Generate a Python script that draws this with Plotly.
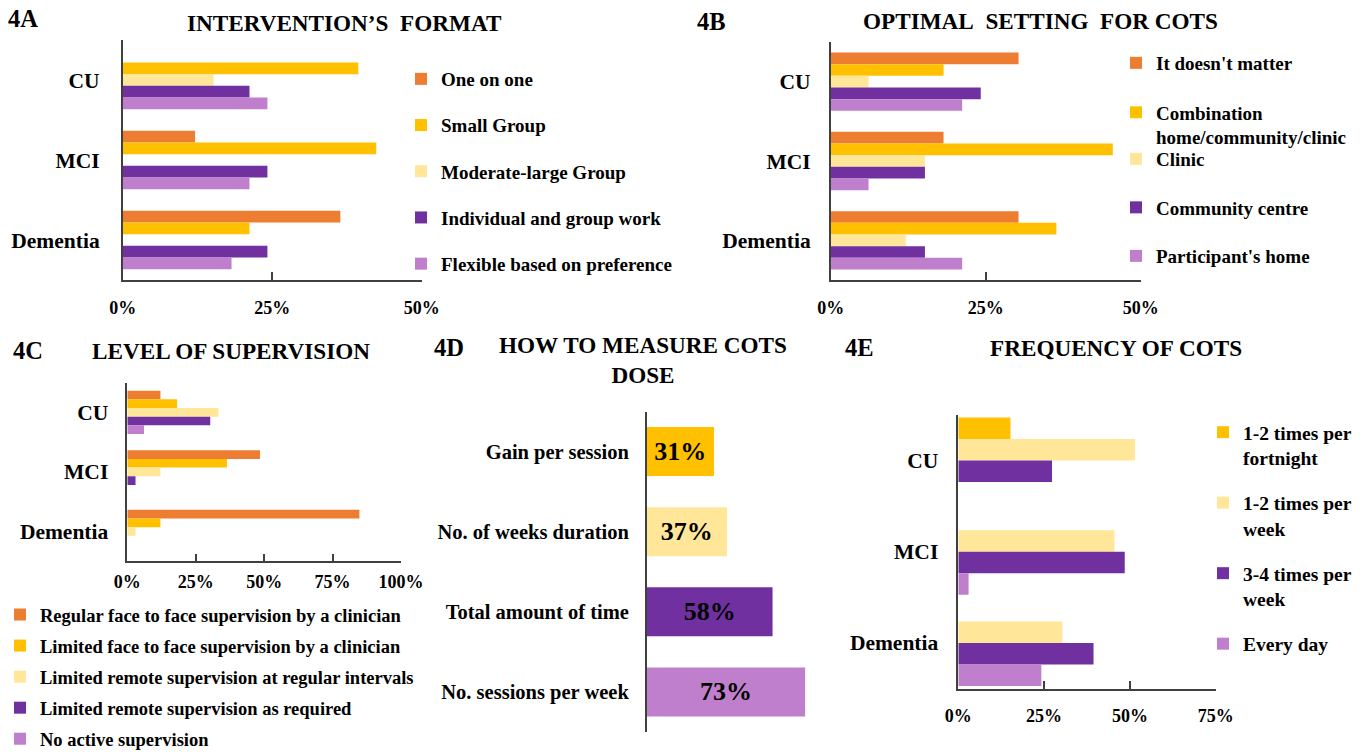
import plotly.graph_objects as go

W, H = 1365, 752
FONT = "Liberation Serif"

# ---------------- data ----------------
groups = ["CU", "MCI", "Dementia"]

# 4A Intervention's format (% of respondents)
format_labels = ["One on one", "Small Group", "Moderate-large Group",
                 "Individual and group work", "Flexible based on preference"]
one_on_one = [0, 12.1, 36.4]
small_group = [39.4, 42.4, 21.2]
moderate_large = [15.2, 0, 0]
individual_group = [21.2, 24.2, 24.2]
flexible = [24.2, 21.2, 18.2]

# 4B Optimal setting
setting_labels = ["It doesn't matter", "Combination<br>home/community/clinic", "Clinic",
                  "Community centre", "Participant's home"]
doesnt_matter = [30.3, 18.2, 30.3]
combination = [18.2, 45.5, 36.4]
clinic = [6.1, 15.2, 12.1]
community = [24.2, 15.2, 15.2]
home = [21.2, 6.1, 21.2]

# 4C Level of supervision
supervision_labels = ["Regular face to face supervision by a clinician",
                      "Limited face to face supervision by a clinician",
                      "Limited remote supervision at regular intervals",
                      "Limited remote supervision as required",
                      "No active supervision"]
regular_f2f = [12.1, 48.5, 84.8]
limited_f2f = [18.2, 36.4, 12.1]
remote_regular = [33.3, 12.1, 3.0]
remote_required = [30.3, 3.0, 0]
no_active = [6.1, 0, 0]

# 4D How to measure dose
dose_measures = ["Gain per session", "No. of weeks duration",
                 "Total amount of time", "No. sessions per week"]
dose_values = [31, 37, 58, 73]

# 4E Frequency
freq_labels = ["1-2 times per<br>fortnight", "1-2 times per<br>week",
               "3-4 times per<br>week", "Every day"]
fortnight = [15.2, 0, 0]
weekly = [51.5, 45.5, 30.3]
three_four = [27.3, 48.5, 39.4]
every_day = [0, 3.0, 24.2]

# ---------------- style ----------------
ORANGE = "#ED7D31"
GOLD = "#FFC000"
PALE = "#FFE699"
PURPLE = "#7030A0"
LILAC = "#C07FCC"
five_colors = [ORANGE, GOLD, PALE, PURPLE, LILAC]
AXC = "#404040"


def px_x(p):
    return p / W


def px_y(p):
    return 1 - p / H


def bold(size):
    return dict(family=FONT, size=size, color="black", weight="bold")


fig = go.Figure()


def add_grouped(labels, series, colors, ax, band, legends):
    k = len(series)
    w = band / k
    for i, (name, vals, col) in enumerate(zip(labels, series, colors)):
        fig.add_trace(go.Bar(
            y=groups, x=[v / 100 for v in vals], orientation="h", name=name,
            marker=dict(color=col, line=dict(width=0)),
            width=w, offset=-band / 2 + i * w,
            xaxis="x" + ax, yaxis="y" + ax,
            legend=legends[i], legendgroup=f"g{ax}_{i}",
            hoverinfo="skip"))


add_grouped(format_labels, [one_on_one, small_group, moderate_large, individual_group, flexible],
            five_colors, "", 0.733, ["legend"] * 5)
add_grouped(setting_labels, [doesnt_matter, combination, clinic, community, home],
            five_colors, "2", 0.736, ["legend2"] * 2 + ["legend3"] * 3)
add_grouped(supervision_labels, [regular_f2f, limited_f2f, remote_regular, remote_required, no_active],
            five_colors, "3", 0.727, ["legend4"] * 5)
add_grouped(freq_labels, [fortnight, weekly, three_four, every_day],
            [GOLD, PALE, PURPLE, LILAC], "5", 0.944, ["legend5"] * 4)

fig.add_trace(go.Bar(
    y=dose_measures, x=[v / 100 for v in dose_values], orientation="h",
    marker=dict(color=[GOLD, PALE, PURPLE, LILAC], line=dict(width=0)),
    width=0.61, text=[f"{v}%" for v in dose_values], textposition="inside",
    insidetextanchor="middle", textangle=0, textfont=bold(26),
    xaxis="x4", yaxis="y4", showlegend=False, hoverinfo="skip"))

# ---------------- axes ----------------
def xaxis(dom, rng, show=True):
    return dict(domain=[px_x(dom[0]), px_x(dom[1])], range=rng, visible=show,
                showline=True, linecolor=AXC, linewidth=1.5, ticks="inside", ticklen=8,
                tickwidth=1.5, tickcolor=AXC, dtick=0.25, tick0=0, tickformat=".0%",
                showgrid=False, zeroline=False, tickfont=bold(18), fixedrange=True,
                automargin=False)


def yaxis(dom, cats, size, standoff):
    return dict(domain=[px_y(dom[1]), px_y(dom[0])], type="category",
                categoryorder="array", categoryarray=cats,
                range=[len(cats) - 0.5, -0.5], showline=True, linecolor=AXC,
                linewidth=1.5, ticks="", showgrid=False, zeroline=False,
                tickfont=bold(size), ticklabelstandoff=standoff, fixedrange=True,
                automargin=False)


layout_axes = {}
layout_axes["xaxis"] = {**xaxis((122.7, 421.7), [0, 0.5]), "anchor": "y", "ticklabelstandoff": 11}
layout_axes["yaxis"] = {**yaxis((40, 280), groups, 21.5, 17), "anchor": "x"}
layout_axes["xaxis2"] = {**xaxis((830.7, 1140.7), [0, 0.5]), "anchor": "y2", "ticklabelstandoff": 11}
layout_axes["yaxis2"] = {**yaxis((42, 280), groups, 21.5, 14), "anchor": "x2"}
layout_axes["xaxis3"] = {**xaxis((127.3, 401), [0, 1]), "anchor": "y3", "ticklabelstandoff": 3}
layout_axes["yaxis3"] = {**yaxis((382.5, 561.3), groups, 21.5, 13), "anchor": "x3"}
layout_axes["xaxis4"] = {**xaxis((646.7, 863.7), [0, 1], show=False), "anchor": "y4"}
layout_axes["yaxis4"] = {**yaxis((411.5, 732), dose_measures, 20.5, 12), "anchor": "x4"}
layout_axes["xaxis5"] = {**xaxis((958.3, 1215.7), [0, 0.75]), "anchor": "y5", "ticklabelstandoff": 10}
layout_axes["yaxis5"] = {**yaxis((415, 688.5), groups, 21.5, 14), "anchor": "x5"}


def legend(left, top, size, gap):
    return dict(x=px_x(left), y=px_y(top), xanchor="left", yanchor="top",
                xref="paper", yref="paper", font=bold(size), tracegroupgap=gap,
                bgcolor="rgba(0,0,0,0)", borderwidth=0, valign="top",
                itemclick=False, itemdoubleclick=False)


# ---------------- titles ----------------
annotations = []


def text(x, y, s, size, anchor="center"):
    annotations.append(dict(x=px_x(x), y=px_y(y), xref="paper", yref="paper", text=s,
                            showarrow=False, font=bold(size), xanchor=anchor,
                            yanchor="middle", align="center"))


text(6, 19, "4A", 24.5, "left")
text(344, 23, "INTERVENTION\u2019S\u00a0\u00a0FORMAT", 23.2)
text(695, 21, "4B", 24.5, "left")
text(1040, 21, "OPTIMAL\u00a0\u00a0SETTING\u00a0\u00a0FOR COTS", 23.2)
text(11, 350, "4C", 24.5, "left")
text(231, 351, "LEVEL OF SUPERVISION", 23.2)
text(432, 347, "4D", 24.5, "left")
text(643, 360, "HOW TO MEASURE COTS<br>DOSE", 23.2)
text(843, 347, "4E", 24.5, "left")
text(1116, 348, "FREQUENCY OF COTS", 23.2)

fig.update_layout(
    width=W, height=H, margin=dict(l=0, r=0, t=0, b=0, autoexpand=False),
    paper_bgcolor="white", plot_bgcolor="white",
    font=dict(family=FONT, color="black"),
    barmode="overlay", showlegend=True,
    legend=legend(401, 60, 19, 18.5),
    legend2=legend(1116, 44, 19, 21.7),
    legend3=legend(1116, 140, 19, 20.8),
    legend4=legend(0, 596, 18.5, 4),
    legend5=legend(1203, 413, 19.5, 16.8),
    annotations=annotations,
    **layout_axes,
)

fig.write_html("out.html", config={"displayModeBar": False},
               post_script="document.body.style.margin='0';document.body.style.overflow='hidden';")
